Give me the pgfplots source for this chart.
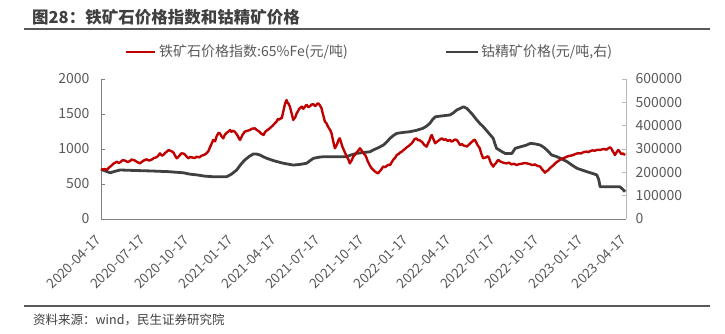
\documentclass[border=0pt]{standalone}
\usepackage{fontspec}
\setmainfont{Noto Sans CJK SC}
\usepackage{pgfplots}
\pgfplotsset{compat=1.18}
\definecolor{ironred}{HTML}{C00000}
\definecolor{cobgray}{HTML}{404040}
\definecolor{txtgray}{HTML}{595959}
\definecolor{axgray}{HTML}{808080}
\begin{document}
\begin{tikzpicture}
\useasboundingbox (0pt,0pt) rectangle (725pt,334pt);
% title and rules
\node[anchor=west,font=\fontsize{16.5}{18}\selectfont\bfseries,text=cobgray,inner sep=0] at (32pt,317pt) {图28：铁矿石价格指数和钴精矿价格};
\draw[txtgray,line width=1.6pt] (24pt,305pt) -- (710pt,305pt);
\draw[txtgray,line width=1.6pt] (24pt,28pt) -- (710pt,28pt);
\node[anchor=west,font=\fontsize{12.5}{14}\selectfont,text=cobgray,inner sep=0] at (33pt,14pt) {资料来源：wind，民生证券研究院};
% legend
\draw[ironred,line width=2.6pt] (126pt,282pt) -- (155pt,282pt);
\node[anchor=west,font=\fontsize{14}{16}\selectfont,text=txtgray,inner sep=0] at (159pt,282pt) {铁矿石价格指数:65\%Fe(元/吨)};
\draw[cobgray,line width=2.6pt] (446pt,282pt) -- (478pt,282pt);
\node[anchor=west,font=\fontsize{14}{16}\selectfont,text=txtgray,inner sep=0] at (481pt,282pt) {钴精矿价格(元/吨,右)};

% right axis: cobalt
\begin{axis}[
  at={(101pt,115pt)}, anchor=south west,
  width=525pt, height=140pt, scale only axis,
  xmin=0, xmax=1095, ymin=0, ymax=600000,
  axis x line=none,
  axis y line*=right,
  y axis line style={draw=gray!55, line width=0.8pt},
  ytick={0,100000,200000,300000,400000,500000,600000},
  scaled y ticks=false,
  yticklabel style={font=\fontsize{14}{16}\selectfont, text=txtgray, /pgf/number format/fixed, /pgf/number format/1000 sep={}, /pgf/number format/assume math mode=true, xshift=6pt},
  tick align=inside,
  major tick length=4pt,
  ytick style={draw=gray!55, line width=0.8pt},
  clip=false,
]
\addplot[cobgray, line width=2.8pt, line join=round] coordinates {
(0,213000) (10,205000) (19,198000) (30,205000) (40,210000) (70,208000) (102,206000) (140,203000) (172,198000) (186,192000) (200,189000) (215,184000) (234,181000) (250,181000) (262,181000) (272,192000) (283,210000) (292,235000) (300,253000) (309,268000) (318,279000) (325,278000) (332,274000) (339,266000) (346,260000) (360,250000) (380,239000) (401,231000) (415,234000) (429,239000) (436,250000) (443,260000) (455,265000) (464,267000) (490,267000) (512,267000) (522,275000) (533,281000) (547,285000) (561,288000) (568,296000) (578,305000) (589,317000) (596,330000) (603,346000) (610,358000) (617,367000) (630,371000) (644,374000) (658,380000) (672,389000) (679,398000) (686,410000) (691,425000) (697,438000) (712,442000) (728,446000) (735,455000) (742,467000) (749,474000) (756,481000) (763,474000) (774,450000) (784,424000) (790,410000) (797,396000) (808,370000) (818,346000) (822,320000) (825,303000) (835,290000) (843,281000) (857,281000) (864,303000) (876,310000) (888,317000) (895,324000) (905,322000) (916,317000) (923,308000) (930,296000) (935,285000) (940,274000) (951,267000) (962,256000) (972,246000) (983,230000) (993,217000) (1003,210000) (1013,203000) (1024,196000) (1034,189000) (1038,170000) (1041,138000) (1060,138000) (1082,138000) (1088,128000) (1093,117000)
};
\end{axis}

% left axis: iron ore
\begin{axis}[
  at={(101pt,115pt)}, anchor=south west,
  width=525pt, height=140pt, scale only axis,
  xmin=0, xmax=1095, ymin=0, ymax=2000,
  axis x line*=bottom,
  axis y line*=left,
  x axis line style={draw=axgray, line width=0.8pt},
  y axis line style={draw=axgray, line width=0.8pt},
  ytick={0,500,1000,1500,2000},
  yticklabel style={font=\fontsize{14}{16}\selectfont, text=txtgray, /pgf/number format/1000 sep={}, /pgf/number format/assume math mode=true, xshift=-8pt},
  xtick={0,91,183,275,365,456,548,640,730,821,913,1005,1095},
  xticklabels={2020-04-17,2020-07-17,2020-10-17,2021-01-17,2021-04-17,2021-07-17,2021-10-17,2022-01-17,2022-04-17,2022-07-17,2022-10-17,2023-01-17,2023-04-17},
  xticklabel style={font=\fontsize{13.5}{15}\selectfont, text=txtgray, rotate=45, anchor=east},
  xticklabel shift=16pt,
  tick align=inside,
  major tick length=4pt,
  ytick style={draw=axgray, line width=0.8pt},
  xtick style={draw=none},
  clip=false,
]
\addplot[ironred, line width=2.4pt, line join=round] coordinates {
(0,710) (4,705) (8,715) (12,700) (16,730) (19,747) (23,770) (26,790) (30,805) (33,819) (37,800) (40,810) (45,840) (50,835) (55,815) (60,825) (64,850) (67,843) (71,835) (74,820) (78,805) (81,795) (85,815) (88,830) (92,845) (95,852) (100,835) (105,845) (110,870) (115,880) (119,900) (123,938) (127,905) (130,915) (134,945) (137,960) (141,985) (144,976) (148,965) (151,950) (155,900) (158,867) (161,885) (163,900) (166,925) (168,938) (172,935) (175,920) (179,890) (182,867) (186,885) (190,880) (195,870) (200,890) (205,880) (210,905) (215,915) (220,938) (224,970) (227,1020) (231,1080) (234,1129) (238,1110) (241,1180) (245,1230) (248,1224) (251,1185) (255,1152) (258,1200) (262,1230) (266,1250) (269,1271) (272,1245) (274,1260) (279,1248) (282,1220) (285,1190) (288,1150) (290,1129) (293,1170) (295,1200) (298,1230) (300,1248) (305,1260) (310,1270) (315,1290) (321,1295) (325,1270) (330,1250) (334,1220) (339,1200) (342,1240) (345,1260) (349,1280) (352,1295) (356,1320) (359,1340) (363,1370) (366,1390) (369,1430) (372,1420) (375,1440) (377,1438) (379,1500) (381,1560) (384,1650) (387,1700) (389,1660) (391,1650) (394,1605) (396,1550) (398,1500) (401,1414) (403,1440) (405,1450) (408,1510) (411,1540) (413,1570) (416,1590) (419,1605) (422,1575) (424,1590) (427,1620) (429,1629) (432,1600) (436,1610) (439,1635) (443,1640) (446,1615) (448,1620) (451,1645) (453,1652) (456,1630) (460,1581) (462,1520) (464,1470) (467,1390) (470,1370) (472,1340) (475,1300) (478,1271) (481,1220) (483,1150) (486,1060) (488,1010) (491,1050) (493,1080) (496,1140) (498,1152) (501,1090) (503,1040) (505,1010) (508,960) (512,900) (516,850) (519,795) (521,820) (523,840) (526,890) (530,920) (533,950) (537,980) (540,1010) (543,985) (545,960) (548,935) (551,914) (554,870) (556,830) (559,790) (561,760) (565,720) (568,700) (573,670) (578,652) (581,680) (584,700) (587,735) (589,748) (593,740) (596,760) (600,775) (603,771) (607,820) (610,850) (614,880) (617,914) (621,930) (624,950) (628,965) (631,986) (634,1000) (637,1020) (641,1040) (644,1057) (648,1080) (651,1110) (654,1140) (658,1152) (661,1125) (664,1130) (667,1110) (669,1105) (672,1080) (674,1060) (677,1045) (679,1033) (682,1080) (685,1120) (688,1180) (690,1200) (692,1160) (694,1130) (697,1081) (700,1100) (704,1120) (708,1140) (711,1152) (715,1130) (719,1140) (723,1115) (728,1129) (731,1105) (735,1120) (738,1135) (742,1129) (744,1110) (746,1090) (749,1057) (753,1070) (756,1050) (760,1045) (763,1033) (767,1060) (770,1080) (773,1100) (775,1110) (778,1130) (780,1129) (783,1090) (785,1060) (788,1030) (790,1010) (792,960) (794,920) (797,867) (800,875) (803,880) (806,895) (808,890) (811,840) (813,800) (816,770) (818,748) (821,780) (824,800) (826,825) (829,843) (833,820) (837,810) (841,800) (846,795) (851,805) (856,780) (861,790) (867,771) (872,785) (878,790) (883,800) (888,795) (894,785) (900,770) (905,780) (910,760) (913,755) (916,748) (919,720) (921,700) (924,680) (926,662) (929,680) (933,700) (936,725) (940,748) (944,770) (948,800) (952,820) (957,843) (961,860) (965,870) (970,885) (975,900) (980,905) (985,914) (990,930) (995,940) (1000,935) (1005,950) (1009,960) (1013,962) (1017,955) (1020,970) (1025,980) (1030,975) (1035,990) (1041,986) (1045,995) (1050,1000) (1054,990) (1058,1010) (1062,1024) (1065,1000) (1067,970) (1070,940) (1072,914) (1074,940) (1076,960) (1079,986) (1082,960) (1085,930) (1089,935) (1093,914)
};
\end{axis}
\end{tikzpicture}
\end{document}
